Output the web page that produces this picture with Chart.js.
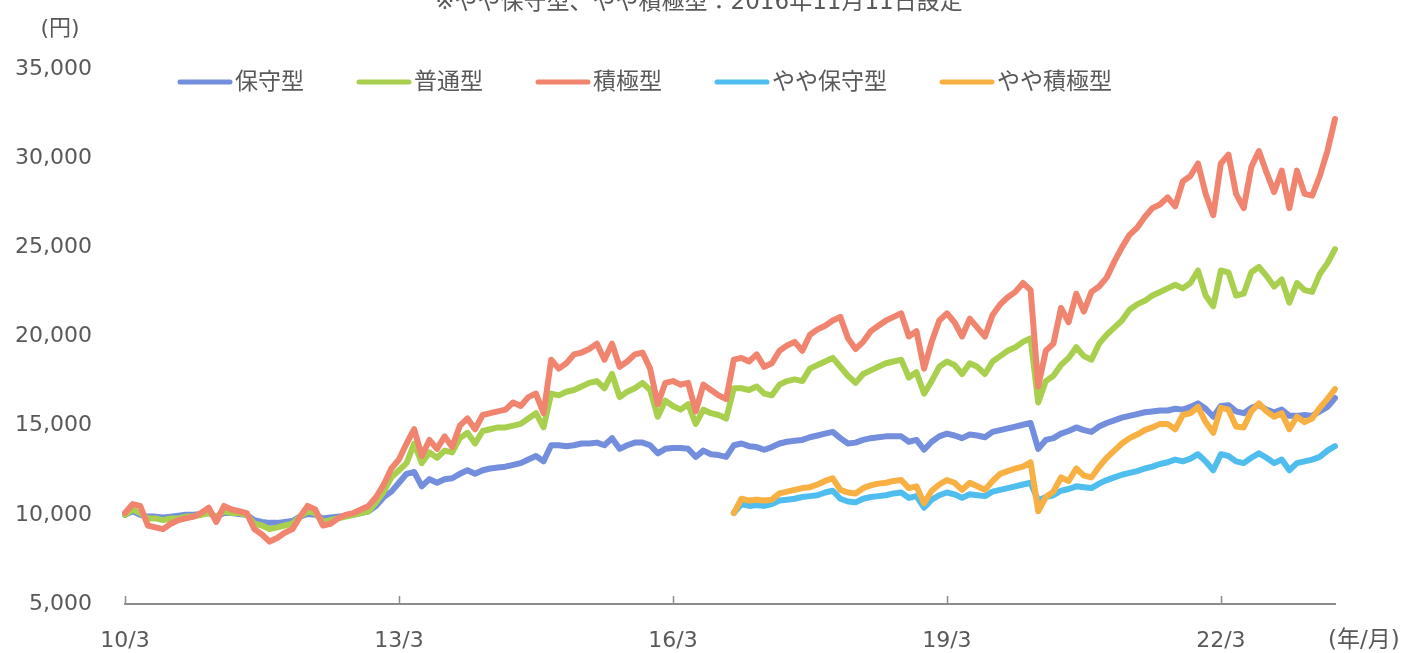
<!DOCTYPE html>
<html><head><meta charset="utf-8">
<script src="https://cdn.jsdelivr.net/npm/chart.js@4.4.1/dist/chart.umd.min.js"></script>
<style>html,body{margin:0;padding:0;background:#fff}#wrap{width:1408px;height:653px;position:relative}</style>
</head><body><div id="wrap"><canvas id="c"></canvas></div>
<script>
// ---- data ----
const startYear = 2010, startMonth = 3, monthCount = 160;
const tickLabels = ['10/3','13/3','16/3','19/3','22/3'];
const yTickValues = [5000,10000,15000,20000,25000,30000,35000];
const seriesNames = ['保守型','普通型','積極型','やや保守型','やや積極型'];
const titleText = '※やや保守型、やや積極型：2016年11月11日設定';
const yUnit = '(円)';
const xUnit = '(年/月)';

const conservative = [
10000,10200,10000,9900,9900,9850,9900,9950,10000,10000,
10050,10100,9900,10100,10100,10050,10000,9700,9600,9550,
9550,9600,9650,9900,10050,10000,9800,9850,9900,9950,
10000,10100,10200,10500,11000,11300,11800,12300,12400,11600,
12000,11800,12000,12050,12300,12500,12300,12500,12600,12650,
12700,12800,12900,13100,13300,13000,13900,13900,13850,13900,
14000,14000,14050,13900,14300,13700,13900,14050,14050,13900,
13450,13700,13750,13750,13700,13250,13600,13400,13350,13250,
13900,14000,13850,13800,13650,13800,14000,14100,14150,14200,
14350,14450,14550,14650,14300,14000,14050,14200,14300,14350,
14400,14400,14400,14100,14200,13650,14100,14400,14550,14450,
14300,14500,14450,14350,14650,14750,14850,14950,15050,15150,
13700,14200,14300,14550,14700,14900,14750,14650,14950,15150,
15300,15450,15550,15650,15750,15800,15850,15850,15950,15900,
16050,16250,15950,15500,16100,16150,15800,15700,16000,16150,
15900,15750,15900,15550,15550,15600,15550,15800,16050,16550];

const standard = [
10000,10300,10100,9800,9800,9700,9800,9800,9900,9900,
10000,10100,9900,10200,10100,10100,10000,9500,9400,9200,
9300,9400,9500,9900,10200,10100,9600,9700,9800,9900,
10000,10100,10200,10700,11300,12100,12500,12900,14000,12900,
13500,13200,13600,13500,14300,14600,14000,14700,14800,14900,
14900,15000,15100,15400,15700,14900,16800,16700,16900,17000,
17200,17400,17500,17100,17900,16600,16900,17100,17400,17000,
15500,16400,16100,15900,16200,15100,15900,15700,15600,15400,
17100,17100,17000,17200,16800,16700,17300,17500,17600,17500,
18200,18400,18600,18800,18300,17800,17400,17900,18100,18300,
18500,18600,18700,17700,18000,16800,17500,18300,18600,18400,
17900,18500,18300,17900,18600,18900,19200,19400,19700,19900,
16300,17500,17800,18400,18800,19400,18900,18700,19600,20100,
20500,20900,21500,21800,22000,22300,22500,22700,22900,22700,
23000,23700,22300,21700,23700,23600,22300,22400,23600,23900,
23400,22800,23200,21900,23000,22600,22500,23500,24100,24900];

const aggressive = [
10100,10600,10500,9400,9300,9200,9500,9700,9800,9900,
10100,10400,9600,10500,10300,10200,10100,9200,8900,8500,
8700,9000,9200,9900,10500,10300,9400,9500,9800,10000,
10100,10300,10500,11000,11700,12600,13100,14000,14800,13300,
14200,13700,14400,13800,15000,15400,14800,15600,15700,15800,
15900,16300,16100,16600,16800,15700,18700,18200,18500,19000,
19100,19300,19600,18700,19600,18300,18600,19000,19100,18200,
16200,17400,17500,17300,17400,15800,17300,17000,16700,16500,
18700,18800,18600,19000,18300,18500,19200,19500,19700,19200,
20100,20400,20600,20900,21100,19900,19300,19700,20300,20600,
20900,21100,21300,20000,20300,18200,19700,20900,21300,20800,
20000,21000,20500,20000,21200,21800,22200,22500,23000,22600,
17200,19200,19600,21600,20800,22400,21400,22500,22800,23300,
24200,25000,25700,26100,26700,27200,27400,27800,27300,28700,
29000,29700,28000,26800,29700,30200,28000,27200,29500,30400,
29200,28100,29300,27200,29300,28000,27900,29000,30400,32200];

// やや保守型 / やや積極型: set up 2016/11 (month index 80)
const slightStartIndex = 80;
const slightlyConservative = [
10100,10600,10500,10550,10500,10600,10800,10850,10900,11000,
11050,11100,11250,11350,10900,10750,10700,10900,11000,11050,
11100,11200,11250,10950,11050,10400,10850,11100,11250,11150,
10950,11150,11100,11050,11300,11400,11500,11600,11700,11800,
10800,11000,11100,11350,11450,11600,11550,11500,11750,11950,
12100,12250,12350,12450,12600,12700,12850,12950,13100,13000,
13150,13400,13000,12500,13400,13300,13000,12900,13200,13450,
13200,12900,13100,12500,12900,13000,13100,13250,13600,13850];

const slightlyAggressive = [
10100,10900,10800,10850,10800,10850,11200,11300,11400,11500,
11550,11700,11900,12050,11400,11250,11200,11500,11650,11750,
11800,11900,11950,11500,11600,10650,11350,11700,11950,11800,
11400,11800,11600,11400,11900,12300,12450,12600,12700,12950,
10200,11000,11300,12100,11900,12600,12200,12100,12700,13200,
13600,14000,14300,14500,14750,14900,15100,15100,14800,15600,
15700,16050,15200,14600,16000,15900,14950,14900,15800,16250,
15800,15500,15700,14800,15500,15200,15400,16000,16500,17050];

const seriesColors = ['#728EDD','#A8D04E','#F0846F','#4FBEEF','#F9B042'];

// ---- build ----
const monthLabels = [];
for (let i = 0; i < monthCount; i++) {
  const t = (startMonth - 1) + i;
  const y = (startYear + Math.floor(t / 12)) % 100;
  monthLabels.push(String(y).padStart(2,'0') + '/' + ((t % 12) + 1));
}
const pad = a => Array(slightStartIndex).fill(null).concat(a);
const seriesData = [conservative, standard, aggressive, pad(slightlyConservative), pad(slightlyAggressive)];
const drawOrder = [5,4,3,2,1];

const FONT = "'DejaVu Sans','Noto Sans CJK JP',sans-serif";
const TXT = '#595959';

const extras = {
  id: 'extras',
  afterDatasetsDraw(chart) {
    const ctx = chart.ctx, xs = chart.scales.x, area = chart.chartArea;
    ctx.save();
    // inner tick marks
    ctx.strokeStyle = '#8c8c8c'; ctx.lineWidth = 1.5;
    monthLabels.forEach((l, i) => {
      if (tickLabels.includes(l)) {
        const x = Math.round(xs.getPixelForValue(i)) + 0.5;
        ctx.beginPath(); ctx.moveTo(x, area.bottom - 8); ctx.lineTo(x, area.bottom); ctx.stroke();
      }
    });
    // title
    ctx.fillStyle = TXT;
    ctx.font = '23px ' + FONT;
    ctx.textAlign = 'center'; ctx.textBaseline = 'alphabetic';
    ctx.fillText(titleText, 699, 9);
    // units
    ctx.font = '22px ' + FONT; ctx.textBaseline = 'middle';
    ctx.fillText(yUnit, 60, 29);
    ctx.textAlign = 'left';
    ctx.font = '23px ' + FONT;
    ctx.fillText(xUnit, 1328, 641);
    // legend
    ctx.font = '23px ' + FONT;
    let x = 178; const ly = 82;
    seriesNames.forEach((n, i) => {
      ctx.strokeStyle = seriesColors[i]; ctx.lineWidth = 5; ctx.lineCap = 'round';
      ctx.beginPath(); ctx.moveTo(x + 2, ly); ctx.lineTo(x + 52, ly); ctx.stroke();
      ctx.fillStyle = TXT; ctx.textAlign = 'left'; ctx.textBaseline = 'middle';
      ctx.fillText(n, x + 57, ly + 1);
      x = x + 57 + ctx.measureText(n).width + 53;
    });
    ctx.restore();
  }
};

new Chart(document.getElementById('c'), {
  type: 'line',
  data: {
    labels: monthLabels,
    datasets: seriesNames.map((n, i) => ({
      label: n, data: seriesData[i], borderColor: seriesColors[i], backgroundColor: seriesColors[i],
      borderWidth: 6, pointRadius: 0, tension: 0, fill: false, spanGaps: false,
      borderJoinStyle: 'round', borderCapStyle: 'round', order: drawOrder[i]
    }))
  },
  options: {
    responsive: true, maintainAspectRatio: false, animation: false,
    devicePixelRatio: 1,
    layout: { padding: { top: 69, right: 73, left: 0, bottom: 0 } },
    plugins: { legend: { display: false }, tooltip: { enabled: false } },
    scales: {
      x: {
        type: 'category',
        grid: { display: false, drawTicks: false },
        border: { display: true, color: '#8c8c8c', width: 2 },
        ticks: {
          autoSkip: false, maxRotation: 0, minRotation: 0, padding: 24,
          color: TXT, font: { family: FONT, size: 22 },
          callback: function(v, i) { return tickLabels.includes(monthLabels[i]) ? monthLabels[i] : ''; }
        },
        afterFit: s => { s.height = 49; }
      },
      y: {
        min: 5000, max: 35000,
        grid: { display: false, drawTicks: false },
        border: { display: false },
        afterBuildTicks: s => { s.ticks = yTickValues.map(v => ({ value: v })); },
        ticks: {
          padding: 33, color: TXT, font: { family: FONT, size: 22 },
          callback: v => v.toLocaleString('en-US')
        },
        afterFit: s => { s.width = 125; }
      }
    }
  },
  plugins: [extras]
});
</script>
</body></html>
